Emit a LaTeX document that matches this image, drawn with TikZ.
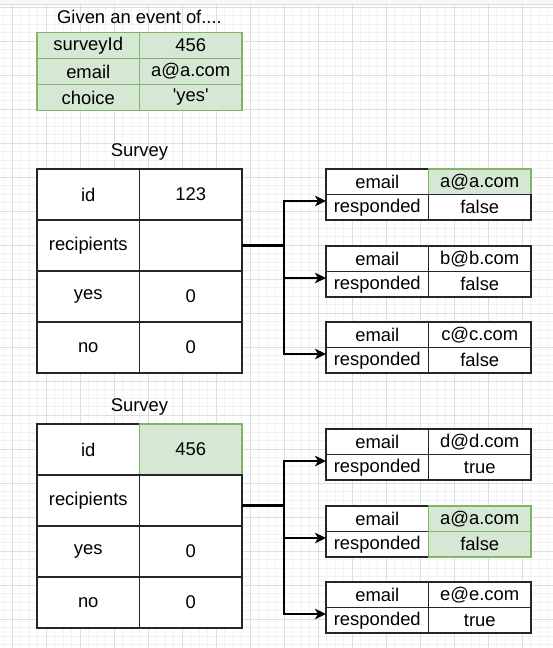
\documentclass[tikz,border=0pt]{standalone}
\usepackage{fontspec}
\setmainfont{Liberation Sans}
\usetikzlibrary{positioning,arrows.meta}
\definecolor{hlfill}{HTML}{D5E8D4}
\definecolor{hldraw}{HTML}{82B366}
\definecolor{gridminor}{HTML}{F2F2F2}
\definecolor{gridmajor}{HTML}{DEDEDE}
\tikzset{
  cell/.style={draw=black!85, fill=white, line width=1.6pt, inner sep=0pt, outer sep=0pt,
    minimum width=102.5pt, minimum height=25.5pt, font=\fontsize{18.4}{22}\selectfont},
  tall/.style={cell, minimum height=51pt},
  evcell/.style={cell, hl, minimum height=26pt},
  hl/.style={fill=hlfill, draw=hldraw},
  plain/.style={},
  title/.style={inner sep=0pt, font=\fontsize{18.4}{22}\selectfont},
  wire/.style={line width=2.8pt, black},
  link/.style={wire, -{Stealth[length=11pt,width=10.5pt,inset=3pt]}}
}
\begin{document}
\begin{tikzpicture}[x=1pt,y=-1pt]
  \useasboundingbox (0,0) rectangle (553,648);
  % background grid
  \fill[black!3] (0,0) rectangle (553,4.7);
  \foreach \gx in {3.8,12.3,...,553} \draw[gridminor,line width=0.8pt] (\gx,4.7) -- (\gx,648);
  \foreach \gy in {7.3,15.8,...,648} \draw[gridminor,line width=0.8pt] (0,\gy) -- (553,\gy);
  \foreach \gx in {12.3,46.3,...,553} \draw[gridmajor,line width=0.8pt] (\gx,4.7) -- (\gx,648);
  \foreach \gy in {7.3,41.3,...,648} \draw[gridmajor,line width=0.8pt] (0,\gy) -- (553,\gy);
  \draw[black!15,line width=0.8pt] (0,4.7) -- (553,4.7);

  % event
  \node[evcell,anchor=north west] (ev1k) at (37,32.5) {surveyId};
  \node[evcell,right=0pt of ev1k] (ev1v) {456};
  \node[evcell,below=0pt of ev1k] (ev2k) {email};
  \node[evcell,right=0pt of ev2k] (ev2v) {a@a.com};
  \node[evcell,below=0pt of ev2k] (ev3k) {choice};
  \node[evcell,right=0pt of ev3k] (ev3v) {\textquotesingle yes\textquotesingle};
  \node[title,above=9pt of ev1k.north east] (evtitle) {Given an event of....};

  % first survey
  \node[tall,anchor=north west] (s1idk) at (37,169) {id};
  \node[tall,right=0pt of s1idk] (s1idv) {123};
  \node[tall,below=0pt of s1idk] (s1rk) {recipients};
  \node[tall,right=0pt of s1rk] (s1rv) {};
  \node[tall,below=0pt of s1rk] (s1yk) {yes};
  \node[tall,right=0pt of s1yk] (s1yv) {0};
  \node[tall,below=0pt of s1yk] (s1nk) {no};
  \node[tall,right=0pt of s1nk] (s1nv) {0};
  \node[title,above=8pt of s1idk.north east] (s1title) {Survey};

  % second survey
  \node[tall,anchor=north west] (s2idk) at (37,424) {id};
  \node[tall,hl,right=0pt of s2idk] (s2idv) {456};
  \node[tall,below=0pt of s2idk] (s2rk) {recipients};
  \node[tall,right=0pt of s2rk] (s2rv) {};
  \node[tall,below=0pt of s2rk] (s2yk) {yes};
  \node[tall,right=0pt of s2yk] (s2yv) {0};
  \node[tall,below=0pt of s2yk] (s2nk) {no};
  \node[tall,right=0pt of s2nk] (s2nv) {0};
  \node[title,above=8pt of s2idk.north east] (s2title) {Survey};

  % recipients
  \foreach \n/\ty/\mail/\resp/\mst/\rst in {a/169/a@a.com/false/hl/plain, b/246/b@b.com/false/plain/plain,
      c/322/c@c.com/false/plain/plain, d/429/d@d.com/true/plain/plain,
      e/506/a@a.com/false/hl/hl, f/582/e@e.com/true/plain/plain} {
    \node[cell,anchor=north west] (\n ek) at (326,\ty) {email};
    \node[cell,\mst,right=0pt of \n ek] (\n ev) {\mail};
    \node[cell,below=0pt of \n ek] (\n rk) {responded};
    \node[cell,\rst,right=0pt of \n rk] (\n rv) {\resp};
    \coordinate (\n in) at ([yshift=-6.5pt]\n ek.south west);
  }

  % connectors
  \coordinate (j1) at ([xshift=42pt]s1rv.east);
  \draw[wire] (s1rv.east) -- (j1);
  \draw[wire,line cap=rect] (j1 |- ain) -- (j1 |- cin);
  \foreach \n in {a,b,c} \draw[link] (j1 |- \n in) -- (\n in);

  \coordinate (s2out) at ([yshift=-5pt]s2rv.east);
  \coordinate (j2) at ([xshift=42pt]s2out);
  \draw[wire] (s2out) -- (j2);
  \draw[wire,line cap=rect] (j2 |- din) -- (j2 |- fin);
  \foreach \n in {d,e,f} \draw[link] (j2 |- \n in) -- (\n in);
\end{tikzpicture}
\end{document}
